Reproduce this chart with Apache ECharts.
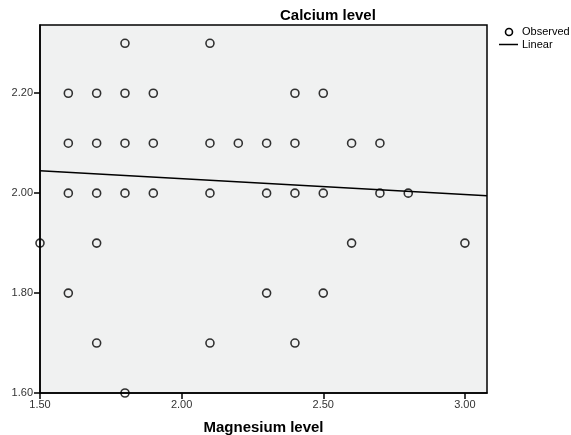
<!DOCTYPE html>
<html><head><meta charset="utf-8">
<script src="https://cdn.jsdelivr.net/npm/echarts@6/dist/echarts.min.js"></script>
<style>html,body{margin:0;padding:0;background:#fff;overflow:hidden}#c{width:571px;height:435px}</style>
</head><body><div id="c"></div>
<script>
// Observed points (Magnesium level, Calcium level)
const magnesium = [1.8,2.1,
  1.6,1.7,1.8,1.9,2.4,2.5,
  1.6,1.7,1.8,1.9,2.1,2.2,2.3,2.4,2.6,2.7,
  1.6,1.7,1.8,1.9,2.1,2.3,2.4,2.5,2.7,2.8,
  1.5,1.7,2.6,3.0,
  1.6,2.3,2.5,
  1.7,2.1,2.4,
  1.8];
const calcium = [2.3,2.3,
  2.2,2.2,2.2,2.2,2.2,2.2,
  2.1,2.1,2.1,2.1,2.1,2.1,2.1,2.1,2.1,2.1,
  2.0,2.0,2.0,2.0,2.0,2.0,2.0,2.0,2.0,2.0,
  1.9,1.9,1.9,1.9,
  1.8,1.8,1.8,
  1.7,1.7,1.7,
  1.6];
// Linear fit endpoints
const fitX = [1.5, 3.078];
const fitY = [2.045, 1.995];
const xTicks = [1.5, 2.0, 2.5, 3.0];
const yTicks = [1.6, 1.8, 2.0, 2.2];
const legendNames = ['Observed', 'Linear'];

const chart = echarts.init(document.getElementById('c'), null, {renderer:'canvas'});
const font = 'Arial, "Liberation Sans", sans-serif';
chart.setOption({
  animation: false,
  title: {text:'Calcium level', left: 275, top: 3,
    textStyle:{fontFamily:font, fontSize:15, fontWeight:'bold', color:'#000'}},
  graphic: [
    {type:'circle', shape:{cx:509, cy:32, r:3.5}, style:{fill:'none', stroke:'#000', lineWidth:1.6}},
    {type:'line', shape:{x1:499, y1:44.5, x2:518, y2:44.5}, style:{stroke:'#000', lineWidth:1.5}},
    {type:'text', x:522, y:32, style:{text:legendNames[0], font:'11px '+font, fill:'#000', verticalAlign:'middle'}},
    {type:'text', x:522, y:45, style:{text:legendNames[1], font:'11px '+font, fill:'#000', verticalAlign:'middle'}}
  ],
  grid: {left:40, right:84, top:25, bottom:42, show:true, backgroundColor:'#f0f1f1',
    borderColor:'#000', borderWidth:1.5, containLabel:false, outerBoundsMode:'none'},
  xAxis: {type:'value', min:1.5, max:3.078, name:'Magnesium level', nameLocation:'middle', nameGap:27,
    nameTextStyle:{fontFamily:font, fontSize:15, fontWeight:'bold', color:'#000'},
    axisLine:{show:true, lineStyle:{color:'#000', width:1.5}},
    axisTick:{show:true, length:6, lineStyle:{color:'#000', width:1.5}, customValues: xTicks},
    axisLabel:{fontFamily:font, fontSize:11, color:'#333', margin:6, customValues: xTicks,
      formatter: v => v.toFixed(2)},
    splitLine:{show:false}},
  yAxis: {type:'value', min:1.6, max:2.3366,
    axisLine:{show:true, lineStyle:{color:'#000', width:1.5}},
    axisTick:{show:true, length:6, lineStyle:{color:'#000', width:1.5}, customValues: yTicks},
    axisLabel:{fontFamily:font, fontSize:11, color:'#333', margin:7, customValues: yTicks,
      formatter: v => v.toFixed(2)},
    splitLine:{show:false}},
  series: [
    {name:'Observed', type:'scatter', symbol:'circle', symbolSize:8,
      itemStyle:{color:'rgba(0,0,0,0)', borderColor:'#000', borderWidth:1.6},
      data: magnesium.map((m,i)=>[m, calcium[i]]), clip:false},
    {name:'Linear', type:'line', symbol:'none', showSymbol:false,
      lineStyle:{color:'#000', width:1.5}, itemStyle:{color:'#000'},
      data: fitX.map((x,i)=>[x, fitY[i]])}
  ]
});
</script></body></html>
